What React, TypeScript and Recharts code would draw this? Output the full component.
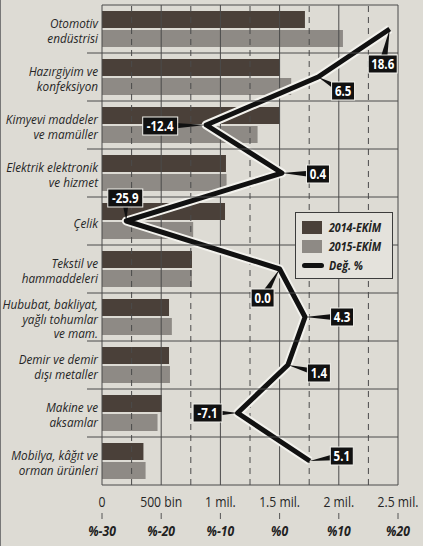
import React from "react";
import {
  ComposedChart,
  Bar,
  Line,
  XAxis,
  YAxis,
  ReferenceLine,
  LabelList,
  Legend,
} from "recharts";

const categories = [
  "Otomotiv\nendüstrisi",
  "Hazırgiyim ve\nkonfeksiyon",
  "Kimyevi maddeler\nve mamüller",
  "Elektrik elektronik\nve hizmet",
  "Çelik",
  "Tekstil ve\nhammaddeleri",
  "Hububat, bakliyat,\nyağlı tohumlar\nve mam.",
  "Demir ve demir\ndışı metaller",
  "Makine ve\naksamlar",
  "Mobilya, kâğıt ve\norman ürünleri",
];
const values2014 = [1714000, 1503000, 1500000, 1047000, 1039000, 760000, 566000, 566000, 505000, 350000];
const values2015 = [2035000, 1598000, 1314000, 1052000, 770000, 760000, 590000, 574000, 469000, 368000];
const changePct = [18.6, 6.5, -12.4, 0.4, -25.9, 0.0, 4.3, 1.4, -7.1, 5.1];

const valueTicks = [0, 500000, 1000000, 1500000, 2000000, 2500000];
const valueTickLabels = ["0", "500 bin", "1 mil.", "1.5 mil.", "2 mil.", "2.5 mil."];
const minorValueTicks = [250000, 750000, 1250000, 1750000, 2250000];
const pctTicks = [-30, -20, -10, 0, 10, 20];
const pctTickLabels = ["%-30", "%-20", "%-10", "%0", "%10", "%20"];

const seriesNames = ["2014-EKİM", "2015-EKİM", "Değ. %"];

// style / layout constants
const W = 423;
const H = 546;
const PLOT_LEFT = 102;
const PLOT_RIGHT = 398;
const ROW_H = 48;
const DARK = "#4a4039";
const GRAY = "#8e8a85";
const BG = "#dddbd4";
const GRID = "#4a4a4a";
const FONT = "'Open Sans', Roboto, sans-serif";
const SX = 0.87;
const FS = 13.5;
const LABEL_OFFSETS: [number, number][] = [
  [-7, 35], [25, 14], [-46, 1], [36, 1], [-1, -23], [-17, 29], [37, 0], [31, 8], [-30, 0], [32, -5],
];

const data = categories.map((name, i) => ({
  name,
  v2014: values2014[i],
  v2015: values2015[i],
  chg: changePct[i],
}));

const CategoryTick = (props: any) => {
  const { x, y, payload, index } = props;
  const lines = String(payload.value).split("\n");
  const lh = 14.5;
  const startY = 2 - ((lines.length - 1) * lh) / 2;
  const top = y - ROW_H / 2;
  const n = categories.length;
  return (
    <g>
      <line
        x1={index === 0 ? PLOT_LEFT : PLOT_LEFT - 15}
        x2={PLOT_RIGHT}
        y1={top}
        y2={top}
        stroke={GRID}
        strokeWidth={1}
      />
      {index === n - 1 && (
        <line x1={PLOT_LEFT} x2={PLOT_RIGHT} y1={y + ROW_H / 2} y2={y + ROW_H / 2} stroke={GRID} strokeWidth={1} />
      )}
      <text
        transform={`translate(${x},${y}) scale(${SX},1)`}
        x={0}
        y={startY}
        textAnchor="end"
        fontFamily={FONT}
        fontStyle="italic"
        fontSize={FS}
        fill="#262626"
      >
        {lines.map((l, i) => (
          <tspan key={i} x={0} y={startY + i * lh} dy="0.35em">
            {l}
          </tspan>
        ))}
      </text>
    </g>
  );
};

const ValueTick = (props: any) => {
  const { x, y, payload } = props;
  const idx = valueTicks.indexOf(payload.value);
  return (
    <text
      transform={`translate(${x},${y}) scale(${SX},1)`}
      x={0}
      y={0}
      dy="0.35em"
      textAnchor="middle"
      fontFamily={FONT}
      fontSize={14}
      fill="#262626"
    >
      {valueTickLabels[idx]}
    </text>
  );
};

const PctTick = (props: any) => {
  const { x, y, payload } = props;
  const idx = pctTicks.indexOf(payload.value);
  return (
    <text
      transform={`translate(${x},${y}) scale(${SX},1)`}
      x={0}
      y={0}
      dy="0.35em"
      textAnchor="middle"
      fontFamily={FONT}
      fontSize={14}
      fontWeight="bold"
      fontStyle="italic"
      fill="#222"
    >
      {pctTickLabels[idx]}
    </text>
  );
};

const ChangeLabel = (props: any) => {
  const { x, y, value, index } = props;
  const [dx, dy] = LABEL_OFFSETS[index] || [20, 0];
  const txt = Number(value).toFixed(1);
  const bw = txt.length * 6 + 5;
  const bh = 18;
  const cx = x + dx;
  const cy = y + dy;
  const vx = cx - x;
  const vy = cy - y;
  const len = Math.sqrt(vx * vx + vy * vy) || 1;
  const px = (-vy / len) * 4;
  const py = (vx / len) * 4;
  return (
    <g>
      <polygon points={`${x},${y} ${cx + px},${cy + py} ${cx - px},${cy - py}`} fill="#111" />
      <rect x={cx - bw / 2} y={cy - bh / 2} width={bw} height={bh} fill="#111" stroke="#f2f1ec" strokeWidth={1} />
      <text
        transform={`translate(${cx},${cy}) scale(0.82,1)`}
        x={0}
        y={0}
        dy="0.36em"
        textAnchor="middle"
        fontFamily={FONT}
        fontWeight="bold"
        fontSize={14}
        fill="#ffffff"
      >
        {txt}
      </text>
    </g>
  );
};

const legendText: React.CSSProperties = {
  display: "inline-block",
  transform: `scaleX(0.82)`,
  transformOrigin: "left center",
  whiteSpace: "nowrap",
};

const LegendContent = () => (
  <div
    style={{
      width: 98,
      height: 67,
      boxSizing: "border-box",
      border: "1px solid #3c3c3c",
      background: "#e4e2dc",
      padding: "5px 0 0 6px",
      fontFamily: FONT,
      fontSize: 13,
      fontWeight: "bold",
      fontStyle: "italic",
      color: "#222",
      lineHeight: "19px",
    }}
  >
    <div style={{ display: "flex", alignItems: "center", height: 19, whiteSpace: "nowrap" }}>
      <span style={{ width: 20, height: 13, background: DARK, display: "inline-block", marginRight: 7, flex: "none" }} />
      <span style={legendText}>{seriesNames[0]}</span>
    </div>
    <div style={{ display: "flex", alignItems: "center", height: 19, whiteSpace: "nowrap" }}>
      <span style={{ width: 20, height: 13, background: GRAY, display: "inline-block", marginRight: 7, flex: "none" }} />
      <span style={legendText}>{seriesNames[1]}</span>
    </div>
    <div style={{ display: "flex", alignItems: "center", height: 19, whiteSpace: "nowrap" }}>
      <span
        style={{
          width: 22,
          height: 5,
          background: "#111",
          borderRadius: 3,
          display: "inline-block",
          marginRight: 5,
          flex: "none",
        }}
      />
      <span style={legendText}>{seriesNames[2]}</span>
    </div>
  </div>
);

export default function App() {
  return (
    <div
      style={{
        position: "absolute",
        left: 0,
        top: 0,
        width: W,
        height: H,
        background: BG,
        borderLeft: "1px solid #777",
        boxSizing: "border-box",
      }}
    >
      <div style={{ position: "absolute", left: -1, top: 0 }}>
        <ComposedChart
          width={W}
          height={H}
          data={data}
          layout="vertical"
          margin={{ top: 5, right: W - PLOT_RIGHT, bottom: 3, left: 0 }}
          barSize={17}
          barGap={2}
        >
          <XAxis
            xAxisId="axisA"
            type="number"
            domain={[0, 2500000]}
            ticks={valueTicks}
            orientation="bottom"
            axisLine={false}
            tickLine={false}
            height={28}
            tickSize={0}
            tickMargin={17}
            tick={<ValueTick />}
            interval={0}
          />
          <XAxis
            xAxisId="axisB"
            type="number"
            domain={[-30, 20]}
            ticks={pctTicks}
            orientation="bottom"
            axisLine={false}
            tickLine={{ stroke: "#555" }}
            tickSize={6}
            tickMargin={12}
            height={30}
            tick={<PctTick />}
            interval={0}
          />
          <YAxis
            type="category"
            dataKey="name"
            width={PLOT_LEFT}
            axisLine={{ stroke: GRID, strokeWidth: 1 }}
            tickLine={false}
            tickSize={0}
            tickMargin={4}
            tick={<CategoryTick />}
            interval={0}
          />
          {minorValueTicks.map((v) => (
            <ReferenceLine
              key={"m" + v}
              xAxisId="axisA"
              x={v}
              stroke={GRID}
              strokeDasharray="6 5"
              strokeWidth={1}
            />
          ))}
          {valueTicks.slice(1).map((v) => (
            <ReferenceLine key={"M" + v} xAxisId="axisA" x={v} stroke={GRID} strokeWidth={1} />
          ))}
          <Legend
            layout="horizontal"
            verticalAlign="middle"
            align="center"
            content={<LegendContent />}
            wrapperStyle={{ left: 295, top: 212, width: 98, height: 67 }}
          />
          <Bar xAxisId="axisA" dataKey="v2014" name={seriesNames[0]} fill={DARK} isAnimationActive={false} />
          <Bar xAxisId="axisA" dataKey="v2015" name={seriesNames[1]} fill={GRAY} isAnimationActive={false} />
          <Line
            xAxisId="axisB"
            dataKey="chg"
            stroke="#f3f2ed"
            strokeWidth={9}
            strokeLinejoin="round"
            dot={false}
            legendType="none"
            isAnimationActive={false}
          />
          <Line
            xAxisId="axisB"
            dataKey="chg"
            name={seriesNames[2]}
            stroke="#111"
            strokeWidth={5}
            strokeLinejoin="round"
            dot={false}
            isAnimationActive={false}
          >
            <LabelList dataKey="chg" content={<ChangeLabel />} />
          </Line>
        </ComposedChart>
      </div>
    </div>
  );
}
